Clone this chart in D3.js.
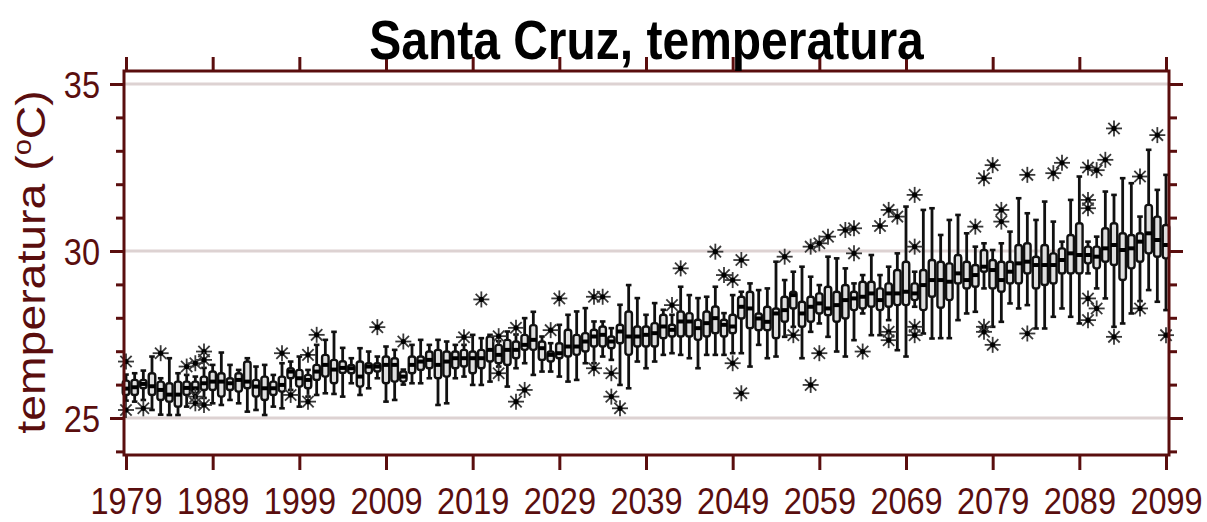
<!DOCTYPE html>
<html>
<head>
<meta charset="utf-8">
<script src="https://cdn.jsdelivr.net/npm/d3@7"></script>
<style>
  html, body { margin: 0; padding: 0; background: #ffffff; }
  svg { display: block; }
  text { font-family: "Liberation Sans", Arial, sans-serif; }
</style>
</head>
<body>
<script>
// ---------------- data ----------------
const years = d3.range(1979, 2100);
const whiskerLow = [
  25.52,25.49,25.54,25.24,25.10,25.09,25.09,25.34,25.72,25.60,
  25.44,25.39,25.54,25.44,25.19,25.24,25.09,25.34,25.29,25.84,
  25.34,25.64,25.69,25.74,25.72,25.64,26.04,25.69,25.89,26.19,
  25.49,25.54,26.00,26.04,26.04,26.19,25.39,25.44,26.19,26.24,
  25.99,25.99,26.09,26.54,25.94,26.49,26.64,26.29,26.39,26.39,
  26.24,26.09,26.14,26.64,26.64,26.84,26.74,25.99,25.89,26.69,
  26.49,26.69,26.89,26.94,26.89,26.79,26.49,26.89,26.89,26.89,
  26.94,26.94,26.54,27.19,26.79,26.84,27.43,27.73,26.79,27.58,
  27.83,27.43,26.99,26.84,27.33,28.13,27.48,27.48,27.93,27.03,
  26.84,28.33,27.53,27.38,27.39,27.39,27.93,28.13,28.18,28.88,
  27.73,27.88,28.43,28.28,28.38,27.68,27.68,28.03,28.28,28.03,
  27.83,29.33,28.88,28.58,27.73,27.83,28.13,28.50,28.83,28.48,
  28.23
];
const quartile1 = [
  25.69,25.69,25.89,25.69,25.54,25.49,25.34,25.69,25.74,25.84,
  25.84,25.64,25.84,25.79,25.89,25.64,25.54,25.69,25.79,26.19,
  25.94,25.89,26.14,26.24,26.04,26.35,26.34,25.94,26.34,26.39,
  26.04,26.09,26.09,26.34,26.44,26.49,26.19,26.24,26.49,26.54,
  26.34,26.49,26.69,26.64,26.59,26.79,27.04,27.04,26.74,26.69,
  26.79,26.84,26.89,26.99,27.14,27.14,27.09,27.24,26.89,27.14,
  27.14,27.14,27.39,27.44,27.44,27.44,27.34,27.44,27.54,27.44,
  27.54,27.98,27.69,27.63,27.63,27.39,27.88,28.28,27.73,27.88,
  28.13,28.08,27.88,27.98,28.23,28.28,28.33,28.23,28.33,28.38,
  28.38,28.53,28.23,28.63,28.30,28.53,29.03,28.88,28.93,29.38,
  28.88,28.78,29.03,29.03,29.33,28.88,28.98,29.03,29.33,29.33,
  29.33,29.63,29.48,29.68,29.58,29.13,29.48,29.68,29.93,29.83,
  29.78
];
const medians = [
  25.88,25.92,26.02,25.95,25.84,25.70,25.70,25.90,25.89,26.04,
  26.09,26.09,26.04,26.14,26.09,25.94,25.89,25.89,25.99,26.39,
  26.19,26.14,26.39,26.59,26.45,26.50,26.49,26.24,26.54,26.54,
  26.59,26.59,26.24,26.59,26.69,26.74,26.59,26.69,26.79,26.79,
  26.79,26.79,27.04,26.89,27.04,27.04,27.19,27.34,27.09,26.89,
  26.94,27.14,27.14,27.29,27.44,27.49,27.29,27.59,27.44,27.44,
  27.49,27.54,27.74,27.64,27.89,27.89,27.69,27.84,27.99,27.79,
  27.74,28.33,28.28,27.98,27.88,28.13,28.23,28.68,28.13,28.33,
  28.43,28.28,28.38,28.53,28.58,28.63,28.73,28.53,28.73,28.73,
  28.78,28.73,28.98,29.13,29.13,29.08,29.33,29.13,29.28,29.53,
  29.43,29.13,29.38,29.63,29.68,29.58,29.58,29.58,29.73,29.93,
  29.88,29.88,29.83,30.08,30.18,30.03,30.08,30.28,30.53,30.33,
  30.18
];
const quartile3 = [
  26.12,26.14,26.14,26.34,26.09,26.04,26.09,26.09,26.09,26.24,
  26.39,26.34,26.19,26.34,26.69,26.14,26.24,26.09,26.24,26.49,
  26.44,26.29,26.59,26.89,26.74,26.70,26.59,26.69,26.64,26.64,
  26.84,26.79,26.39,26.84,26.84,26.99,27.04,26.99,26.99,27.04,
  26.99,27.04,27.44,27.19,27.34,27.29,27.49,27.78,27.29,26.99,
  27.24,27.64,27.49,27.54,27.64,27.74,27.44,27.79,28.19,27.74,
  27.74,27.84,28.09,27.79,28.19,28.14,27.94,28.19,28.34,27.94,
  28.09,28.63,28.78,28.13,28.33,28.28,28.63,28.78,28.48,28.63,
  28.73,28.93,28.78,28.98,28.78,29.08,29.08,28.88,29.03,29.43,
  29.68,29.03,29.43,29.73,29.68,29.63,29.88,29.68,29.58,30.03,
  29.73,29.68,29.68,30.18,30.23,29.83,30.18,29.93,30.08,30.48,
  30.83,30.13,30.13,30.68,30.83,30.53,30.48,30.53,31.38,31.03,
  30.78
];
const whiskerHigh = [
  26.30,26.34,26.42,26.84,26.19,26.79,26.34,26.29,26.24,26.50,
  26.59,26.96,26.59,26.44,26.79,26.54,26.59,26.29,26.64,26.69,
  26.84,26.44,27.19,27.34,27.58,27.10,26.79,27.09,26.99,26.84,
  27.14,27.04,26.45,27.19,27.34,27.19,27.34,27.29,27.19,27.19,
  27.49,27.39,27.49,27.30,27.59,27.50,27.99,28.18,27.44,27.24,
  27.79,28.09,28.19,28.29,27.89,27.89,27.69,28.39,28.98,28.59,
  28.09,28.44,28.24,28.09,28.93,28.68,28.59,28.63,28.93,28.14,
  28.68,28.78,29.03,28.83,28.88,29.68,29.13,29.38,29.53,29.23,
  28.98,29.83,29.78,29.48,29.03,29.28,29.88,29.28,29.53,29.93,
  31.33,29.38,31.23,31.28,30.48,30.93,31.08,30.53,30.13,30.23,
  30.03,30.23,30.58,31.58,31.13,30.93,31.48,30.88,30.28,31.53,
  32.23,30.28,30.43,31.78,31.68,32.18,32.03,31.03,33.03,31.83,
  32.28
];
const outlierYears = [
  1979,1979,1981,1983,1986,1987,1987,1987,1988,1988,1988,1997,1998,2000,2000,2001,
  2008,2011,2018,2020,2022,2022,2024,2024,2025,2028,2029,2033,2033,2034,2035,2035,
  2036,2042,2043,2047,2048,2049,2049,2050,2050,2055,2056,2058,2058,2059,2059,2060,
  2062,2063,2063,2064,2066,2067,2067,2067,2068,2070,2070,2070,2070,2077,2078,2078,
  2078,2079,2079,2080,2080,2083,2083,2086,2087,2090,2090,2090,2090,2090,2091,2091,
  2092,2093,2093,2096,2096,2098,2099
];
const outlierValues = [
  26.69,25.24,25.29,26.94,26.54,26.64,25.64,25.44,26.99,26.74,25.39,26.94,25.69,26.89,25.49,27.49,
  27.72,27.29,27.42,28.55,27.45,26.34,27.70,25.49,25.84,27.63,28.58,28.63,26.49,28.63,26.34,25.64,
  25.29,28.38,29.48,29.98,29.28,29.13,26.64,29.73,25.74,29.83,27.48,30.13,25.99,30.23,26.94,30.43,
  30.63,30.68,29.93,26.99,30.75,31.23,27.58,27.33,31.03,31.68,30.13,27.73,27.48,30.73,32.18,27.73,
  27.58,32.57,27.19,31.23,30.88,32.28,27.53,32.33,32.64,32.50,31.53,31.28,28.58,27.93,32.42,28.28,
  32.73,33.67,27.43,32.23,28.28,33.47,27.48
];
const yearTicks = [1979,1989,1999,2009,2019,2029,2039,2049,2059,2069,2079,2089,2099];
const tempMinorTicks = d3.range(24, 36);
const tempMajorTicks = [25, 30, 35];
const titleText = "Santa Cruz, temperatura";

// ---------------- layout ----------------
const W = 1207, H = 522;
const plot = { left: 124, right: 1169, top: 71, bottom: 455 };
const maroon = "#5a0e0e";
const vScale = 1.16; // vertical stretch of glyphs

const svg = d3.select("body").append("svg").attr("width", W).attr("height", H);

const x = d3.scaleLinear().domain([1979, 2099]).range([126, 1166]);
const y = d3.scaleLinear().domain([25, 35]).range([418, 84]);

// grid lines
svg.append("g").selectAll("line").data(tempMajorTicks).join("line")
  .attr("x1", plot.left).attr("x2", plot.right)
  .attr("y1", d => y(d)).attr("y2", d => y(d))
  .attr("stroke", "#ddd2d2").attr("stroke-width", 3);

// boxes
const boxes = years.map((yr, i) => ({
  yr, lo: whiskerLow[i], q1: quartile1[i], med: medians[i], q3: quartile3[i], hi: whiskerHigh[i]
}));
const bw = 6.5;
const g = svg.append("g");
const bg = g.selectAll("g.box").data(boxes).join("g").attr("class", "box");
bg.append("line")
  .attr("x1", d => x(d.yr)).attr("x2", d => x(d.yr))
  .attr("y1", d => y(d.hi)).attr("y2", d => y(d.lo))
  .attr("stroke", "#111").attr("stroke-width", 2.8);
bg.append("line")
  .attr("x1", d => x(d.yr) - 2.8).attr("x2", d => x(d.yr) + 2.8)
  .attr("y1", d => y(d.hi)).attr("y2", d => y(d.hi))
  .attr("stroke", "#111").attr("stroke-width", 2.6);
bg.append("line")
  .attr("x1", d => x(d.yr) - 2.8).attr("x2", d => x(d.yr) + 2.8)
  .attr("y1", d => y(d.lo)).attr("y2", d => y(d.lo))
  .attr("stroke", "#111").attr("stroke-width", 2.6);
bg.append("rect")
  .attr("x", d => x(d.yr) - bw / 2).attr("width", bw)
  .attr("y", d => y(d.q3)).attr("height", d => Math.max(1, y(d.q1) - y(d.q3)))
  .attr("rx", 2.5)
  .attr("fill", "#dedede").attr("stroke", "#111").attr("stroke-width", 2.4);
bg.append("line")
  .attr("x1", d => x(d.yr) - bw / 2).attr("x2", d => x(d.yr) + bw / 2)
  .attr("y1", d => y(d.med)).attr("y2", d => y(d.med))
  .attr("stroke", "#000").attr("stroke-width", 4);

// outliers (asterisks)
const outliers = outlierYears.map((yr, i) => ({ yr, v: outlierValues[i] }));
const r = 8;
const og = svg.append("g").selectAll("g").data(outliers).join("g")
  .attr("transform", d => `translate(${x(d.yr)},${y(d.v)})`);
[0, 45, 90, 135].forEach(a => {
  const rad = a * Math.PI / 180;
  og.append("line")
    .attr("x1", -r * Math.cos(rad)).attr("y1", -r * Math.sin(rad))
    .attr("x2", r * Math.cos(rad)).attr("y2", r * Math.sin(rad))
    .attr("stroke", "#383838").attr("stroke-width", 1.8);
});
og.append("circle").attr("r", 2.6).attr("fill", "#000");

// frame
svg.append("rect")
  .attr("x", plot.left).attr("y", plot.top)
  .attr("width", plot.right - plot.left).attr("height", plot.bottom - plot.top)
  .attr("fill", "none").attr("stroke", maroon).attr("stroke-width", 3);

function styleAxis(sel) {
  sel.select(".domain").remove();
  sel.selectAll(".tick line").attr("stroke", maroon).attr("stroke-width", 3);
}

// bottom axis
const bottomAxis = svg.append("g").attr("transform", `translate(0,${plot.bottom})`)
  .call(d3.axisBottom(x).tickValues(yearTicks).tickSize(15).tickSizeOuter(0).tickFormat(d3.format("d")));
styleAxis(bottomAxis);
bottomAxis.selectAll(".tick text")
  .attr("y", null).attr("dy", null)
  .attr("transform", `translate(0,59) scale(1,1.14)`)
  .attr("fill", maroon).attr("font-size", 32.5)
  .attr("font-family", "'Liberation Sans', Arial, sans-serif");

// top axis
const topAxis = svg.append("g").attr("transform", `translate(0,${plot.top})`)
  .call(d3.axisTop(x).tickValues(yearTicks).tickSize(14).tickSizeOuter(0).tickFormat(""));
styleAxis(topAxis);

// left axes
const leftMinor = svg.append("g").attr("transform", `translate(${plot.left},0)`)
  .call(d3.axisLeft(y).tickValues(tempMinorTicks).tickSize(8).tickSizeOuter(0).tickFormat(""));
styleAxis(leftMinor);
const leftMajor = svg.append("g").attr("transform", `translate(${plot.left},0)`)
  .call(d3.axisLeft(y).tickValues(tempMajorTicks).tickSize(14).tickSizeOuter(0).tickFormat(d3.format("d")));
styleAxis(leftMajor);
leftMajor.selectAll(".tick text")
  .attr("x", null).attr("dy", null)
  .attr("transform", `translate(-24,13.5) scale(1,${vScale})`)
  .attr("fill", maroon).attr("font-size", 32.5)
  .attr("font-family", "'Liberation Sans', Arial, sans-serif");

// right axes
const rightMinor = svg.append("g").attr("transform", `translate(${plot.right},0)`)
  .call(d3.axisRight(y).tickValues(tempMinorTicks).tickSize(8).tickSizeOuter(0).tickFormat(""));
styleAxis(rightMinor);
const rightMajor = svg.append("g").attr("transform", `translate(${plot.right},0)`)
  .call(d3.axisRight(y).tickValues(tempMajorTicks).tickSize(14).tickSizeOuter(0).tickFormat(""));
styleAxis(rightMajor);

// title
svg.append("text")
  .attr("transform", `translate(${(plot.left + plot.right) / 2},59) scale(1,1.17)`)
  .attr("text-anchor", "middle")
  .attr("font-size", 48).attr("font-weight", "bold").attr("fill", "#000")
  .text(titleText);

// y label
const yl = svg.append("text")
  .attr("transform", `translate(45,262) rotate(-90) scale(${vScale},1)`)
  .attr("text-anchor", "middle")
  .attr("font-size", 40).attr("fill", maroon);
yl.append("tspan").text("temperatura (");
yl.append("tspan").attr("font-size", 25).attr("baseline-shift", "55%").text("o");
yl.append("tspan").attr("baseline-shift", "0").text("C)");
</script>
</body>
</html>
